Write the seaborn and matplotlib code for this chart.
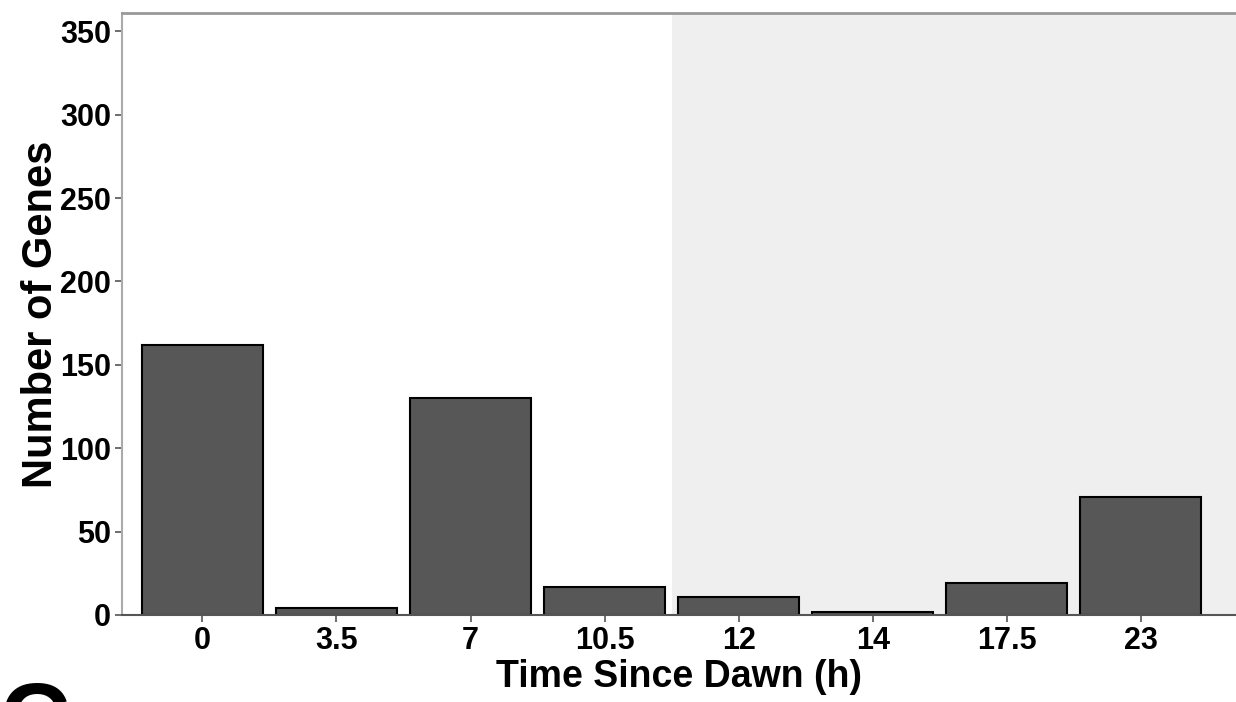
import matplotlib
matplotlib.use("Agg")
import matplotlib.pyplot as plt
import seaborn as sns
import pandas as pd

times = ["0", "3.5", "7", "10.5", "12", "14", "17.5", "23"]
gene_counts = [162, 4, 130, 17, 11, 2, 19, 71]
y_ticks = [0, 50, 100, 150, 200, 250, 300, 350]

df = pd.DataFrame({"time": times, "genes": gene_counts})

sns.set_style("white")
plt.rcParams["font.family"] = ["Liberation Sans", "DejaVu Sans"]
plt.rcParams["font.weight"] = "bold"
plt.rcParams["text.color"] = "black"
plt.rcParams["axes.labelcolor"] = "black"
plt.rcParams["xtick.color"] = "black"
plt.rcParams["ytick.color"] = "black"

fig = plt.figure(figsize=(12.36, 7.02), dpi=100)
ax = fig.add_axes([122 / 1236, 1 - 615 / 702, 1 - 122 / 1236, (615 - 13) / 702])

# night period shading
ax.axvspan(3.5, 8, color="#efefef", zorder=0, lw=0)

sns.barplot(data=df, x="time", y="genes", order=times, color="#575757",
            saturation=1, edgecolor="black", linewidth=1.5, width=0.9,
            ax=ax, zorder=2)

ax.set_xlim(-0.6, 7.71)
ax.set_ylim(0, 361)
ax.set_yticks(y_ticks)
ax.tick_params(axis="both", direction="out", length=5, width=1.2,
               color="#555555", labelcolor="black", labelsize=22, pad=3,
               left=True, bottom=True)
for lab in ax.get_xticklabels() + ax.get_yticklabels():
    lab.set_fontweight("bold")

ax.set_xlabel("Time Since Dawn (h)", fontsize=27, fontweight="bold", labelpad=2)
ax.set_ylabel("Number of Genes", fontsize=30, fontweight="bold", labelpad=-1)

ax.spines["right"].set_visible(False)
ax.spines["top"].set_color("#999999")
ax.spines["top"].set_linewidth(2)
ax.spines["left"].set_color("#aaaaaa")
ax.spines["left"].set_linewidth(1.5)
ax.spines["bottom"].set_color("#555555")
ax.spines["bottom"].set_linewidth(1.5)

# panel letter, cut off at bottom edge as in the source figure
fig.text(0.0, 1 - 680 / 702, "C", fontsize=70, fontweight="bold",
         ha="left", va="top")

fig.savefig("out.png", dpi=100)
